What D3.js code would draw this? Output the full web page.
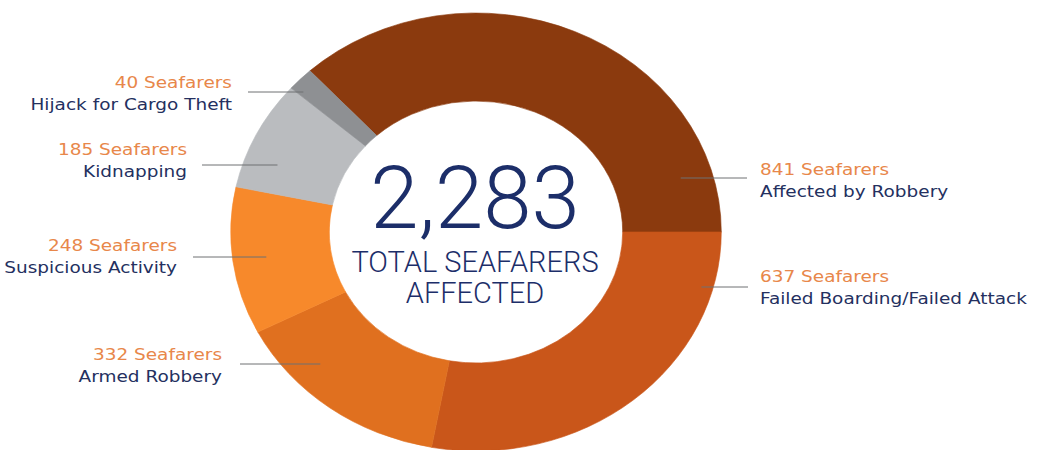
<!DOCTYPE html>
<html>
<head>
<meta charset="utf-8">
<script src="https://cdn.jsdelivr.net/npm/d3@7"></script>
<style>
  html, body { margin: 0; padding: 0; background: #ffffff; }
  svg { display: block; }
</style>
</head>
<body>
<svg id="chart" width="1047" height="450"></svg>
<script>
// Seafarers affected, by incident type (clockwise from the top-left)
const categories = [
  "Affected by Robbery",
  "Failed Boarding/Failed Attack",
  "Armed Robbery",
  "Suspicious Activity",
  "Kidnapping",
  "Hijack for Cargo Theft"
];
const values = [841, 637, 332, 248, 185, 40];
const valueSuffix = " Seafarers";
const centerCaption = ["TOTAL SEAFARERS", "AFFECTED"];

// Slice colours, same order as categories
const colors = ["#8b3a0e", "#c9561a", "#e0701f", "#f7892b", "#babcbf", "#8e9093"];

// Label layout: side, text anchor x, first-line baseline, leader y, leader outer x, inset into ring
const labelSide   = ["right", "right", "left", "left", "left", "left"];
const labelX      = [760, 760, 222, 177, 187, 232];
const labelY      = [175, 282, 360, 251, 155, 88];
const leaderY     = [178, 287, 364, 257, 165, 92];
const leaderOuter = [747, 748, 240, 193, 202, 248];
const leaderInset = [33, 12, 40, 34, 35, 16];

const cx = 476, cy = 232;
const rOuter = 219, rInner = 131, stretchX = 1.12;

const svg = d3.select("#chart");
const total = d3.sum(values);

// First slice ends exactly at 3 o'clock
const start = Math.PI / 2 - 2 * Math.PI * values[0] / total;
const pie = d3.pie().sort(null).value(d => d).startAngle(start).endAngle(start + 2 * Math.PI);
const arc = d3.arc().innerRadius(rInner).outerRadius(rOuter);
const color = d3.scaleOrdinal().domain(categories).range(colors);

const ring = svg.append("g")
  .attr("transform", `translate(${cx},${cy}) scale(${stretchX},1)`);

ring.selectAll("path")
  .data(pie(values))
  .join("path")
  .attr("d", arc)
  .attr("fill", (d, i) => color(categories[i]))
  .attr("stroke", (d, i) => color(categories[i]))
  .attr("stroke-width", 0.6);

// Leader lines: from the label into the ring
function edgeX(y, side) {
  const dy = (y - cy) / rOuter;
  const half = Math.sqrt(Math.max(0, 1 - dy * dy)) * rOuter * stretchX;
  return side === "left" ? cx - half : cx + half;
}

const labels = svg.append("g");
categories.forEach((name, i) => {
  const left = labelSide[i] === "left";
  const inner = edgeX(leaderY[i], labelSide[i]) + (left ? leaderInset[i] : -leaderInset[i]);
  labels.append("line")
    .attr("x1", leaderOuter[i]).attr("x2", inner)
    .attr("y1", leaderY[i]).attr("y2", leaderY[i])
    .attr("stroke", "#6f7073").attr("stroke-width", 1);

  // Labels share the ring's horizontal stretch
  const t = labels.append("text")
    .attr("transform", `translate(${labelX[i]},${labelY[i]}) scale(${stretchX},1)`)
    .attr("text-anchor", left ? "end" : "start")
    .attr("font-family", "'DejaVu Sans', sans-serif")
    .attr("font-size", 16.5);
  t.append("tspan")
    .attr("x", 0)
    .attr("fill", "#e8874a")
    .text(values[i] + valueSuffix);
  t.append("tspan")
    .attr("x", 0)
    .attr("dy", 22)
    .attr("fill", "#243060")
    .text(name);
});

// Centre total
const center = svg.append("g").attr("text-anchor", "middle").attr("fill", "#1c2e69")
  .attr("font-family", "Roboto, 'Open Sans', sans-serif");
center.append("text")
  .attr("x", cx - 1).attr("y", 228)
  .attr("font-size", 87).attr("font-weight", 300)
  .text(d3.format(",")(total));
center.append("text")
  .attr("x", cx - 1).attr("y", 272)
  .attr("font-size", 29).attr("font-weight", 300)
  .text(centerCaption[0]);
center.append("text")
  .attr("x", cx - 1).attr("y", 303)
  .attr("font-size", 29).attr("font-weight", 300)
  .text(centerCaption[1]);
</script>
</body>
</html>
